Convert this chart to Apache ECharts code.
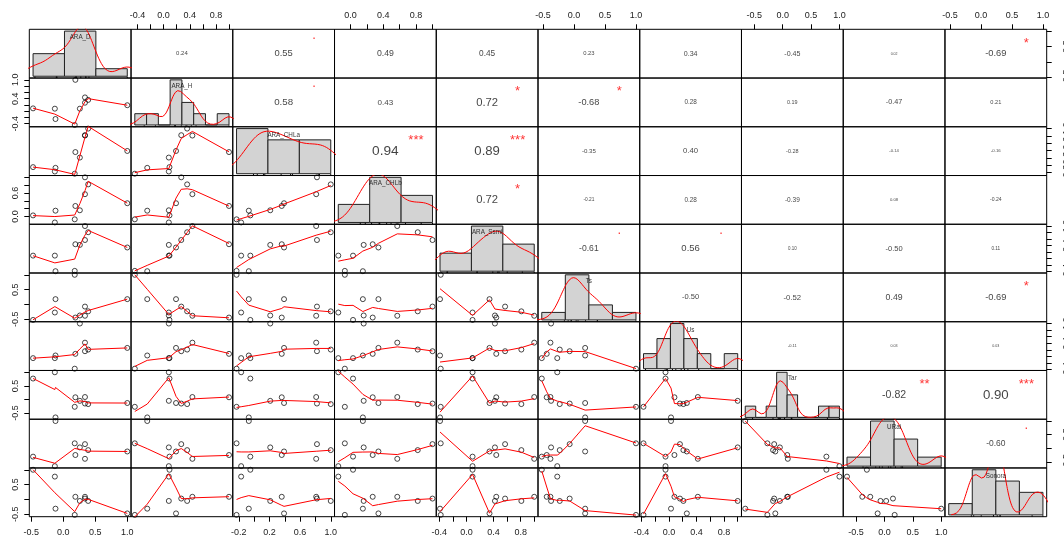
<!DOCTYPE html>
<html>
<head>
<meta charset="utf-8">
<script src="https://cdn.jsdelivr.net/npm/echarts@6/dist/echarts.min.js"></script>
<style>
  html, body { margin: 0; padding: 0; background: #fff; }
  #chart { width: 1064px; height: 537px; }
</style>
</head>
<body>
<div id="chart"></div>
<script>
// ---- data ---------------------------------------------------------------
const varNames = ['ARA_D', 'ARA_H', 'ARA_CHLa', 'ARA_CHLb', 'ARA_Ssmi', 'Ts', 'Us', 'Tar', 'URai', 'Sonora'];

// one array per variable, 10 observations each
const ARA_D    = [1.00, 0.19, 0.39, 0.34, 0.34, 0.18, 0.26, -0.13, -0.12, -0.47];
const ARA_H    = [0.19, 1.00, 0.36, 0.27, 0.44, -0.44, 0.08, 0.08, -0.25, 0.09];
const ARA_CHLa = [0.39, 0.36, 1.00, 0.82, 0.81, -0.23, 0.21, -0.17, -0.07, -0.05];
const ARA_CHLb = [0.34, 0.27, 0.82, 1.00, 0.57, -0.07, 0.16, -0.15, 0.15, 0.03];
const ARA_Ssmi = [0.34, 0.44, 0.81, 0.57, 1.00, -0.38, 0.42, 0.09, -0.39, 0.09];
const Ts       = [0.18, -0.44, -0.23, -0.07, -0.38, 1.00, -0.37, -0.27, 0.18, -0.52];
const Us       = [0.26, 0.08, 0.21, 0.16, 0.42, -0.37, 1.00, -0.05, 0.03, -0.05];
const Tar      = [-0.13, 0.08, -0.17, -0.15, 0.09, -0.27, -0.05, 1.00, -0.66, 0.77];
const URai     = [-0.12, -0.25, -0.07, 0.15, -0.39, 0.18, 0.03, -0.66, 1.00, -0.31];
const Sonora   = [-0.47, 0.09, -0.05, 0.03, 0.09, -0.52, -0.05, 0.77, -0.31, 1.00];

// histogram break points of each variable
const histBreaks = [
  [-0.5, 0, 0.5, 1.0],
  [-0.6, -0.4, -0.2, 0, 0.2, 0.4, 0.6, 0.8, 1.0],
  [-0.5, 0, 0.5, 1.0],
  [-0.5, 0, 0.5, 1.0],
  [-0.5, 0, 0.5, 1.0],
  [-1.0, -0.5, 0, 0.5, 1.0],
  [-0.4, -0.2, 0, 0.2, 0.4, 0.6, 0.8, 1.0],
  [-0.8, -0.6, -0.4, -0.2, 0, 0.2, 0.4, 0.6, 0.8, 1.0],
  [-1.0, -0.5, 0, 0.5, 1.0],
  [-1.0, -0.5, 0, 0.5, 1.0]
];

// pairwise correlation labels (upper triangle, row by row) and significance marks
const corLabels = [
  ['0.24', '0.55', '0.49', '0.45', '0.23', '0.34', '-0.45', '0.02', '-0.69'],
  ['0.58', '0.43', '0.72', '-0.68', '0.28', '0.19', '-0.47', '0.21'],
  ['0.94', '0.89', '-0.35', '0.40', '-0.28', '-0.14', '-0.16'],
  ['0.72', '-0.21', '0.28', '-0.39', '0.08', '-0.24'],
  ['-0.61', '0.56', '0.10', '-0.50', '0.11'],
  ['-0.50', '-0.52', '0.49', '-0.69'],
  ['-0.11', '0.03', '0.03'],
  ['-0.82', '0.90'],
  ['-0.60']
];
const sigMarks = [
  ['', '.', '', '', '', '', '', '', '*'],
  ['.', '', '*', '*', '', '', '', ''],
  ['***', '***', '', '', '', '', ''],
  ['*', '', '', '', '', ''],
  ['.', '.', '', '', ''],
  ['', '', '', '*'],
  ['', '', ''],
  ['**', '***'],
  ['.']
];

// axis tick positions per variable, and the tick labels printed on each orientation
const varTicks = [
  [-0.5, 0, 0.5, 1.0],
  [-0.4, -0.2, 0, 0.2, 0.4, 0.6, 0.8, 1.0],
  [-0.2, 0, 0.2, 0.4, 0.6, 0.8, 1.0],
  [0, 0.2, 0.4, 0.6, 0.8, 1.0],
  [-0.4, -0.2, 0, 0.2, 0.4, 0.6, 0.8, 1.0],
  [-0.5, 0, 0.5, 1.0],
  [-0.4, -0.2, 0, 0.2, 0.4, 0.6, 0.8, 1.0],
  [-0.5, 0, 0.5, 1.0],
  [-0.5, 0, 0.5, 1.0],
  [-0.5, 0, 0.5, 1.0]
];
const xTickLabels = [
  ['-0.5', '0.0', '0.5', '1.0'],
  ['-0.4', '0.0', '0.4', '0.8'],
  ['-0.2', '0.2', '0.6', '1.0'],
  ['0.0', '0.4', '0.8'],
  ['-0.4', '0.0', '0.4', '0.8'],
  ['-0.5', '0.0', '0.5', '1.0'],
  ['-0.4', '0.0', '0.4', '0.8'],
  ['-0.5', '0.0', '0.5', '1.0'],
  ['-0.5', '0.0', '0.5', '1.0'],
  ['-0.5', '0.0', '0.5', '1.0']
];
const yTickLabels = [
  ['-0.5', '0.5'],
  ['-0.4', '0.4', '1.0'],
  ['-0.2', '0.2', '0.6', '1.0'],
  ['0.0', '0.6'],
  ['-0.4', '0.4', '1.0'],
  ['-0.5', '0.5'],
  ['-0.4', '0.4', '1.0'],
  ['-0.5', '0.5'],
  ['-0.5', '0.5'],
  ['-0.5', '0.5']
];

// ---- layout & style -----------------------------------------------------
const FONT = '"Liberation Sans", Arial, Helvetica, sans-serif';
const GRID_LEFT = 29.3, GRID_TOP = 29.3, CELL_W = 101.74, CELL_H = 48.74;
const RED = '#ff0000';

const vars = [ARA_D, ARA_H, ARA_CHLa, ARA_CHLb, ARA_Ssmi, Ts, Us, Tar, URai, Sonora];
const N = vars.length;

// ---- statistics helpers ---------------------------------------------------
function padded(lo, hi) { const r = hi - lo; return [lo - 0.04 * r, hi + 0.04 * r]; }

function quantile7(sorted, p) {
  const h = (sorted.length - 1) * p, lo = Math.floor(h), hi = Math.min(lo + 1, sorted.length - 1);
  return sorted[lo] + (h - lo) * (sorted[hi] - sorted[lo]);
}
function bwNrd0(x) {
  const n = x.length, m = x.reduce((a, b) => a + b, 0) / n;
  const sd = Math.sqrt(x.reduce((s, v) => s + (v - m) * (v - m), 0) / (n - 1));
  const s = [...x].sort((a, b) => a - b);
  let lo = Math.min(sd, (quantile7(s, 0.75) - quantile7(s, 0.25)) / 1.34);
  if (!lo) lo = sd || Math.abs(x[0]) || 1;
  return 0.9 * lo * Math.pow(n, -0.2);
}
// gaussian kernel density evaluated on a grid spanning the data +/- 3 bandwidths
function kernelDensity(x) {
  const bw = bwNrd0(x), lo = Math.min(...x) - 3 * bw, hi = Math.max(...x) + 3 * bw;
  const out = [], steps = 256, norm = x.length * bw * Math.sqrt(2 * Math.PI);
  for (let k = 0; k < steps; k++) {
    const t = lo + (hi - lo) * k / (steps - 1);
    let s = 0;
    for (const v of x) { const z = (t - v) / bw; s += Math.exp(-0.5 * z * z); }
    out.push([t, s / norm]);
  }
  return out;
}
function histogram(x, breaks) {
  const counts = new Array(breaks.length - 1).fill(0);
  for (const v of x) {
    for (let b = 0; b < breaks.length - 1; b++) {
      const a = breaks[b], c = breaks[b + 1];
      if ((v > a + 1e-9 || (b === 0 && v >= a - 1e-9)) && v <= c + 1e-9) { counts[b]++; break; }
    }
  }
  return counts.map((c, b) => [breaks[b], breaks[b + 1], c / (x.length * (breaks[b + 1] - breaks[b]))]);
}

// locally weighted scatterplot smoothing (Cleveland), f = 2/3, 3 robustness passes
function lowestFit(x, y, n, xs, nleft, nright, w, userw, rw) {
  const range = x[n - 1] - x[0];
  const h = Math.max(xs - x[nleft], x[nright] - xs), h9 = 0.999 * h, h1 = 0.001 * h;
  let a = 0, j = nleft;
  while (j < n) {
    w[j] = 0;
    const r = Math.abs(x[j] - xs);
    if (r <= h9) {
      w[j] = r <= h1 ? 1 : Math.pow(1 - Math.pow(r / h, 3), 3);
      if (userw) w[j] *= rw[j];
      a += w[j];
    } else if (x[j] > xs) break;
    j++;
  }
  const nrt = j - 1;
  if (a <= 0) return null;
  for (j = nleft; j <= nrt; j++) w[j] /= a;
  if (h > 0) {
    a = 0;
    for (j = nleft; j <= nrt; j++) a += w[j] * x[j];
    let b = xs - a, c = 0;
    for (j = nleft; j <= nrt; j++) c += w[j] * (x[j] - a) * (x[j] - a);
    if (Math.sqrt(c) > 0.001 * range) {
      b /= c;
      for (j = nleft; j <= nrt; j++) w[j] *= (b * (x[j] - a) + 1);
    }
  }
  let ys = 0;
  for (j = nleft; j <= nrt; j++) ys += w[j] * y[j];
  return ys;
}
function lowess(xIn, yIn, f = 2 / 3, iterations = 3) {
  const order = xIn.map((_, i) => i).sort((a, b) => xIn[a] - xIn[b]);
  const x = order.map(i => xIn[i]), y = order.map(i => yIn[i]), n = x.length;
  const delta = 0.01 * (x[n - 1] - x[0]);
  const ys = new Array(n).fill(0), rw = new Array(n).fill(1), res = new Array(n).fill(0), w = new Array(n).fill(0);
  const ns = Math.max(2, Math.min(n, Math.floor(f * n + 1e-7)));
  let iter = 1;
  while (iter <= iterations + 1) {
    let nleft = 0, nright = ns - 1, last = -1, i = 0;
    for (;;) {
      if (nright < n - 1) {
        const d1 = x[i] - x[nleft], d2 = x[nright + 1] - x[i];
        if (d1 > d2) { nleft++; nright++; continue; }
      }
      const v = lowestFit(x, y, n, x[i], nleft, nright, w, iter > 1, rw);
      ys[i] = v === null ? y[i] : v;
      if (last < i - 1) {
        const denom = x[i] - x[last];
        for (let j = last + 1; j < i; j++) {
          const alpha = (x[j] - x[last]) / denom;
          ys[j] = alpha * ys[i] + (1 - alpha) * ys[last];
        }
      }
      last = i;
      const cut = x[last] + delta;
      for (i = last + 1; i < n; i++) {
        if (x[i] > cut) break;
        if (x[i] === x[last]) { ys[i] = ys[last]; last = i; }
      }
      i = Math.max(last + 1, i - 1);
      if (last >= n - 1) break;
    }
    for (let k = 0; k < n; k++) res[k] = y[k] - ys[k];
    const sc = res.reduce((s, r) => s + Math.abs(r), 0) / n;
    if (iter > iterations) break;
    const ar = res.map(Math.abs).sort((a, b) => a - b);
    const m1 = Math.floor(n / 2);
    const cmad = (n % 2 === 0) ? 3 * (ar[m1] + ar[n - m1 - 1]) : 6 * ar[m1];
    if (cmad < 1e-7 * sc) break;
    const c9 = 0.999 * cmad, c1 = 0.001 * cmad;
    for (let k = 0; k < n; k++) {
      const r = Math.abs(res[k]);
      rw[k] = r <= c1 ? 1 : (r <= c9 ? Math.pow(1 - Math.pow(r / cmad, 2), 2) : 0);
    }
    iter++;
  }
  return x.map((v, k) => [v, ys[k]]);
}

// text width in em, used to size the correlation labels
const measureCtx = document.createElement('canvas').getContext('2d');
measureCtx.font = '100px ' + FONT;
function emWidth(t) { return measureCtx.measureText(t).width / 100; }

// ---- build the option -----------------------------------------------------
const ranges = vars.map(v => padded(Math.min(...v), Math.max(...v)));

function makeAxis(g, r, show, pos, ticks, labels, rotate, margin) {
  return {
    type: 'value', gridIndex: g, min: r[0], max: r[1], show: show, position: pos,
    axisLine: { show: false, onZero: false }, splitLine: { show: false },
    axisTick: { show: true, customValues: ticks, length: 5, lineStyle: { color: '#000', width: 1 } },
    axisLabel: {
      show: true, customValues: labels.map(Number), rotate: rotate, margin: margin,
      formatter: v => Number(v).toFixed(1), fontSize: 9, color: '#222', fontFamily: FONT
    }
  };
}

const option = { animation: false, backgroundColor: '#fff', grid: [], xAxis: [], yAxis: [], series: [] };

for (let i = 0; i < N; i++) {
  for (let j = 0; j < N; j++) {
    const g = i * N + j;
    option.grid.push({
      left: GRID_LEFT + j * CELL_W, top: GRID_TOP + i * CELL_H, width: CELL_W, height: CELL_H,
      show: true, borderColor: '#000', borderWidth: 1, backgroundColor: 'transparent',
      outerBoundsMode: 'none', containLabel: false
    });

    let xr, yr, bins = null;
    if (i === j) {
      const br = histBreaks[i];
      bins = histogram(vars[i], br);
      const ymax = Math.max(...bins.map(b => b[2]));
      xr = padded(br[0], br[br.length - 1]);
      yr = padded(0, ymax);
    } else {
      xr = ranges[j];
      yr = ranges[i];
    }

    const showTop = (i === 0 && j % 2 === 1), showBottom = (i === N - 1 && j % 2 === 0);
    const showLeft = (j === 0 && i % 2 === 1), showRight = (j === N - 1 && i % 2 === 0);
    option.xAxis.push(makeAxis(g, xr, showTop || showBottom, showTop ? 'top' : 'bottom',
      varTicks[j], xTickLabels[j], 0, showTop ? 9 : 11));
    option.yAxis.push(makeAxis(g, yr, showLeft || showRight, showLeft ? 'left' : 'right',
      varTicks[i], yTickLabels[i], 90, showLeft ? 9 : 15));

    if (i > j) {
      // scatter of variable j (x) against variable i (y) with a lowess smoother
      option.series.push({
        type: 'scatter', xAxisIndex: g, yAxisIndex: g, silent: true,
        symbol: 'circle', symbolSize: 5,
        itemStyle: { color: 'transparent', borderColor: '#000', borderWidth: 0.9 },
        data: vars[j].map((v, k) => [v, vars[i][k]]), z: 2
      });
      option.series.push({
        type: 'line', xAxisIndex: g, yAxisIndex: g, silent: true, showSymbol: false,
        lineStyle: { color: RED, width: 1 }, data: lowess(vars[j], vars[i]), z: 3
      });
    } else if (i === j) {
      // histogram, density curve, rug and variable name
      option.series.push({
        type: 'custom', xAxisIndex: g, yAxisIndex: g, silent: true, data: bins, z: 2,
        renderItem: (params, api) => {
          const p0 = api.coord([api.value(0), 0]);
          const p1 = api.coord([api.value(1), api.value(2)]);
          return {
            type: 'rect',
            shape: { x: p0[0], y: p1[1], width: p1[0] - p0[0], height: p0[1] - p1[1] },
            style: { fill: '#d3d3d3', stroke: '#222', lineWidth: 1 }
          };
        }
      });
      option.series.push({
        type: 'line', xAxisIndex: g, yAxisIndex: g, silent: true, showSymbol: false, clip: true,
        lineStyle: { color: RED, width: 1 }, data: kernelDensity(vars[i]), z: 3
      });
      const yBottom = yr[0], rugLen = 0.03 * CELL_H;
      option.series.push({
        type: 'custom', xAxisIndex: g, yAxisIndex: g, silent: true, z: 3,
        data: vars[i].map(v => [v, yBottom]),
        renderItem: (params, api) => {
          const p = api.coord([api.value(0), api.value(1)]);
          return { type: 'line', shape: { x1: p[0], y1: p[1], x2: p[0], y2: p[1] - rugLen },
                   style: { stroke: '#000', lineWidth: 1 } };
        }
      });
      option.series.push({
        type: 'scatter', xAxisIndex: g, yAxisIndex: g, silent: true, symbolSize: 1,
        itemStyle: { color: 'transparent' }, z: 4,
        data: [{
          value: [xr[0] + 0.5 * (xr[1] - xr[0]), yr[0] + (5 / 6) * (yr[1] - yr[0])],
          label: { show: true, position: 'inside', formatter: varNames[i], fontSize: 6.3,
                   color: '#000', fontFamily: FONT }
        }]
      });
    } else {
      // correlation coefficient, sized by its magnitude, plus significance mark
      const txt = corLabels[i][j - i - 1], sig = sigMarks[i][j - i - 1];
      const r = Math.abs(parseFloat(txt));
      const fs = 21.5 * (r + 0.3) / emWidth(txt);
      const at = (fx, fy) => [xr[0] + fx * (xr[1] - xr[0]), yr[0] + fy * (yr[1] - yr[0])];
      const items = [{
        value: at(0.5, 0.5),
        label: { show: true, position: 'inside', formatter: txt, fontSize: fs, color: '#111', fontFamily: FONT }
      }];
      if (sig) {
        items.push({
          value: at(0.8, 0.8),
          label: { show: true, position: 'inside', formatter: sig, fontSize: 13, color: RED,
                   fontFamily: FONT, offset: [0, sig === '.' ? -4 : 4] }
        });
      }
      option.series.push({
        type: 'scatter', xAxisIndex: g, yAxisIndex: g, silent: true, symbolSize: 1,
        itemStyle: { color: 'transparent' }, data: items, z: 4
      });
    }
  }
}

const chart = echarts.init(document.getElementById('chart'), null, { renderer: 'canvas', width: 1064, height: 537 });
chart.setOption(option);
</script>
</body>
</html>
